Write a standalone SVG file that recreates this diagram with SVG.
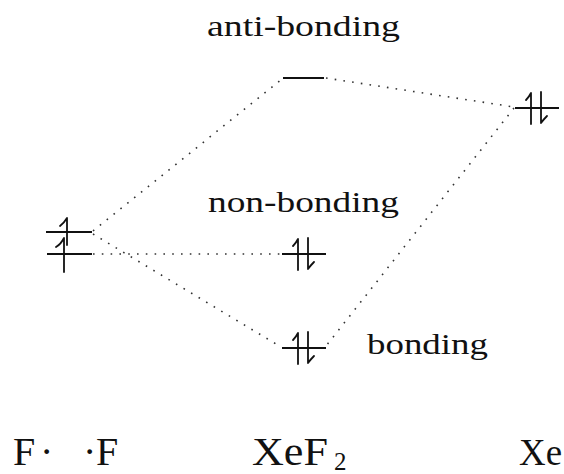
<svg xmlns="http://www.w3.org/2000/svg" xmlns:xlink="http://www.w3.org/1999/xlink" width="564" height="474" viewBox="0 0 564 474">
<style>
.lvl{stroke:#111;stroke-width:2;fill:none;stroke-linecap:butt}
.arr{stroke:#111;stroke-width:1.8;fill:none;stroke-linecap:round;stroke-linejoin:round}
.dot{stroke:#333;stroke-width:1.6;fill:none;stroke-dasharray:1.6 7.2}
.lbl{font-family:"Liberation Serif","DejaVu Serif",serif;fill:#111}
</style>
<defs>
<g id="pair">
<line class="lvl" x1="-21" y1="0" x2="23" y2="0"/>
<path class="arr" d="M-5,16 V-15 Q-7,-11 -10,-8"/>
<path class="arr" d="M5,-16 V15 Q8,11 11,8"/>
</g>
</defs>
<rect width="564" height="474" fill="#fff"/>
<g id="connectors">
<line class="dot" x1="93" y1="231" x2="282" y2="79"/>
<line class="dot" x1="326" y1="78" x2="514" y2="107"/>
<line class="dot" x1="514" y1="108" x2="326" y2="346"/>
<line class="dot" x1="93" y1="254" x2="282" y2="254"/>
<line class="dot" x1="93" y1="234" x2="281" y2="347"/>
</g>
<g id="F-levels">
<line class="lvl" x1="46" y1="232" x2="92" y2="232"/>
<line class="lvl" x1="47" y1="254" x2="92" y2="254"/>
<path class="arr" d="M67,245 V218 Q64,223 60,226"/>
<path class="arr" d="M64,272 V238 Q61,244 56,247"/>
</g>
<g id="anti-bonding">
<line class="lvl" x1="283" y1="78" x2="324" y2="78"/>
<text class="lbl" x="207" y="36" font-size="29" textLength="193" lengthAdjust="spacingAndGlyphs">anti-bonding</text>
</g>
<g id="non-bonding">
<use xlink:href="#pair" href="#pair" x="303" y="254"/>
<text class="lbl" x="208" y="212" font-size="29" textLength="191" lengthAdjust="spacingAndGlyphs">non-bonding</text>
</g>
<g id="bonding">
<use xlink:href="#pair" href="#pair" x="303" y="348"/>
<text class="lbl" x="367" y="354" font-size="29" textLength="121" lengthAdjust="spacingAndGlyphs">bonding</text>
</g>
<g id="Xe-level">
<use xlink:href="#pair" href="#pair" x="536" y="108"/>
</g>
<g id="labels">
<text class="lbl" font-size="40" y="465"><tspan x="13">F</tspan><tspan x="40">·</tspan></text>
<text class="lbl" font-size="40" y="465"><tspan x="83">·</tspan><tspan x="96">F</tspan></text>
<text class="lbl" font-size="40" y="465" x="252" textLength="76" lengthAdjust="spacingAndGlyphs">XeF</text>
<text class="lbl" font-size="25" y="470" x="334">2</text>
<text class="lbl" font-size="38" y="465" x="519" textLength="43" lengthAdjust="spacingAndGlyphs">Xe</text>
</g>
</svg>
